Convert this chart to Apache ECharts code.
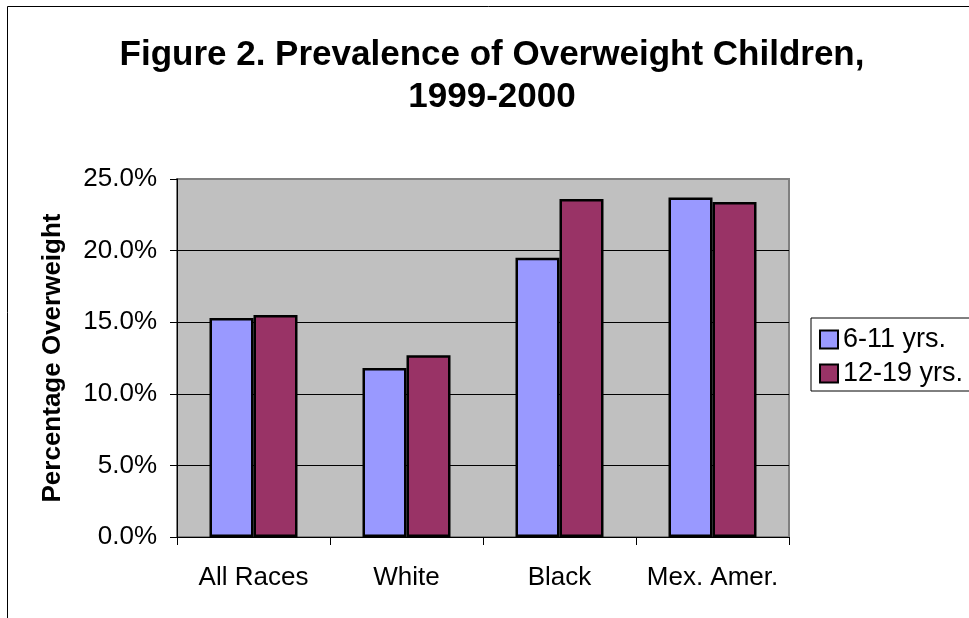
<!DOCTYPE html>
<html>
<head>
<meta charset="utf-8">
<script src="https://cdn.jsdelivr.net/npm/echarts@6/dist/echarts.min.js"></script>
<style>
html, body { margin: 0; padding: 0; background: #fff; }
#chart { width: 969px; height: 618px; }
</style>
</head>
<body>
<div id="chart"></div>
<script>
// values, percent
let groups = ['All Races', 'White', 'Black', 'Mex. Amer.'];
let seriesNames = ['6-11 yrs.', '12-19 yrs.'];
let children = [15.3, 11.8, 19.5, 23.7];
let teens = [15.5, 12.7, 23.6, 23.4];
let yTicks = [0, 5, 10, 15, 20, 25];

let chart = echarts.init(document.getElementById('chart'));

let font = 'Liberation Sans, Arial, sans-serif';

let barStyle = (color) => ({
	color: color,
	borderColor: '#000',
	borderWidth: 2.5
});

chart.setOption({
	backgroundColor: '#fff',
	animation: false,
	textStyle: { fontFamily: font },
	title: {
		text: 'Figure 2. Prevalence of Overweight Children,\n1999-2000',
		left: 487,
		top: 29,
		textAlign: 'center',
		textStyle: {
			fontFamily: font,
			fontSize: 35,
			fontWeight: 'bold',
			color: '#000',
			lineHeight: 42
		}
	},
	graphic: [{
		type: 'rect',
		shape: { x: 7.5, y: 6.5, width: 1000, height: 1000 },
		style: { fill: 'none', stroke: '#000', lineWidth: 1 },
		silent: true
	}],
	legend: {
		data: seriesNames,
		orient: 'vertical',
		left: 811,
		top: 318,
		padding: [8, 30, 4, 8],
		itemWidth: 18,
		itemHeight: 18,
		itemGap: 7,
		backgroundColor: '#fff',
		borderColor: '#000',
		borderWidth: 1,
		icon: 'rect',
		textStyle: { fontFamily: font, fontSize: 27, color: '#000' }
	},
	grid: {
		left: 177,
		right: 180,
		top: 179,
		bottom: 81,
		show: true,
		backgroundColor: '#C0C0C0',
		borderColor: '#808080',
		borderWidth: 2
	},
	xAxis: {
		type: 'category',
		data: groups,
		axisLine: { lineStyle: { color: '#000', width: 1 } },
		axisTick: { show: true, interval: 0, length: 8, lineStyle: { color: '#000' } },
		axisLabel: { interval: 0, fontFamily: font, fontSize: 26, color: '#000', margin: 28 }
	},
	yAxis: {
		type: 'value',
		min: yTicks[0],
		max: yTicks[yTicks.length - 1],
		interval: 5,
		name: 'Percentage Overweight',
		nameLocation: 'middle',
		nameGap: 111,
		nameTextStyle: { fontFamily: font, fontSize: 26, fontWeight: 'bold', color: '#000' },
		axisLine: { show: true, lineStyle: { color: '#000', width: 1 } },
		axisTick: { show: true, length: 7, lineStyle: { color: '#000' } },
		axisLabel: {
			fontFamily: font,
			fontSize: 26,
			color: '#000',
			margin: 20,
			formatter: v => v.toFixed(1) + '%'
		},
		splitLine: {
			show: true,
			lineStyle: { color: ['#000', '#000', '#000', '#000', '#000', '#808080'], width: 1 }
		}
	},
	series: [{
		name: seriesNames[0],
		type: 'bar',
		data: children,
		barWidth: 44,
		barGap: '0%',
		itemStyle: barStyle('#9999FF')
	}, {
		name: seriesNames[1],
		type: 'bar',
		data: teens,
		barWidth: 44,
		barGap: '0%',
		itemStyle: barStyle('#993366')
	}]
});
</script>
</body>
</html>
